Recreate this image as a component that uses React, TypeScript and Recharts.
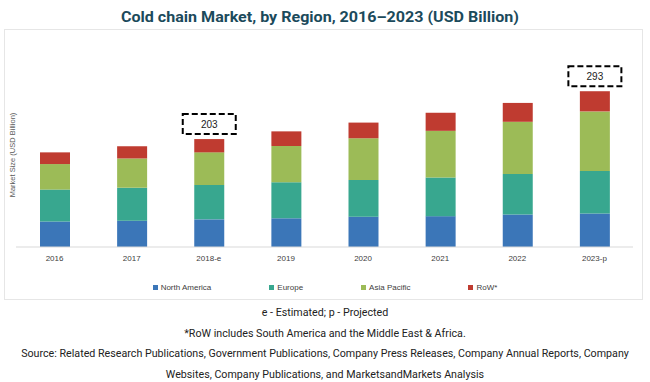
import React from "react";
import { BarChart, Bar, XAxis, YAxis, LabelList } from "recharts";

const years = ["2016", "2017", "2018-e", "2019", "2020", "2021", "2022", "2023-p"];
const northAmerica = [48, 49.5, 52, 54, 57, 58, 61, 63];
const europe = [60, 62, 64.5, 68, 69, 72.5, 76.5, 80];
const asiaPacific = [48, 55, 61.5, 68, 78.5, 88, 98, 112];
const restOfWorld = [22, 23, 25, 27.5, 29.5, 34, 35.5, 38];
const callouts = ["", "", "203", "", "", "", "", "293"];

const seriesNames = ["North America", "Europe", "Asia Pacific", "RoW*"];
const seriesKeys = ["northAmerica", "europe", "asiaPacific", "restOfWorld"];
const seriesColors = ["#3b76b8", "#38a78f", "#9cbb57", "#bf3b30"];

const data = years.map((year, i) => ({
  year,
  northAmerica: northAmerica[i],
  europe: europe[i],
  asiaPacific: asiaPacific[i],
  restOfWorld: restOfWorld[i],
  callout: callouts[i],
}));

const narrow = "'Liberation Sans Narrow', 'Liberation Sans', Arial, sans-serif";

const CalloutLabel = (props: any) => {
  const { x, y, width, value } = props;
  if (!value) return null;
  const cx = Number(x) + Number(width) / 2;
  const bottom = Number(y) - 5;
  return (
    <g>
      <rect
        x={cx - 26.5}
        y={bottom - 20}
        width={53}
        height={20}
        fill="#ffffff"
        stroke="#000000"
        strokeWidth={2}
        strokeDasharray="6 3"
      />
      <text
        x={cx}
        y={bottom - 10}
        textAnchor="middle"
        dominantBaseline="central"
        fontSize={10}
        fontFamily={narrow}
        fill="#222222"
      >
        {value}
      </text>
    </g>
  );
};

export default function App() {
  return (
    <div style={{ position: "absolute", left: 0, top: 0, width: 650, height: 382, background: "#ffffff", overflow: "hidden" }}>
      <svg width={650} height={30} style={{ position: "absolute", left: 0, top: 0 }}>
        <text
          x={320}
          y={17}
          textAnchor="middle"
          dominantBaseline="central"
          fontSize={14}
          fontWeight="bold"
          fontFamily="Roboto, 'Liberation Sans', sans-serif"
          fill="#1b4a5b"
          textLength={398}
          lengthAdjust="spacingAndGlyphs"
        >
          Cold chain Market, by Region, 2016–2023 (USD Billion)
        </text>
      </svg>
      <div
        style={{
          position: "absolute",
          left: 4,
          top: 29,
          width: 639,
          height: 271,
          border: "1px solid #e6e6e6",
          boxSizing: "border-box",
        }}
      />
      <div
        style={{
          position: "absolute",
          left: 12,
          top: 155,
          transform: "translate(-50%, -50%) rotate(-90deg)",
          whiteSpace: "nowrap",
          fontSize: 7.5,
          fontFamily: narrow,
          color: "#595959",
        }}
      >
        Market Size (USD Billion)
      </div>
      <div style={{ position: "absolute", left: 0, top: 0 }}>
        <BarChart
          width={650}
          height={270}
          data={data}
          margin={{ top: 87.5, right: 17, bottom: 0, left: 16 }}
          barSize={30}
        >
          <XAxis
            dataKey="year"
            height={23}
            tickLine={false}
            axisLine={{ stroke: "#d9d9d9" }}
            tick={{ fontSize: 8, fill: "#404040", fontFamily: narrow }}
            interval={0}
          />
          <YAxis hide domain={[0, 300]} />
          {seriesKeys.map((key, i) => (
            <Bar key={key} dataKey={key} stackId="a" fill={seriesColors[i]} isAnimationActive={false}>
              {i === seriesKeys.length - 1 ? (
                <LabelList dataKey="callout" content={CalloutLabel} />
              ) : null}
            </Bar>
          ))}
        </BarChart>
      </div>
      <div
        style={{
          position: "absolute",
          left: 2,
          top: 283,
          width: 646,
          display: "flex",
          justifyContent: "center",
          gap: 58,
          fontSize: 8,
          fontFamily: narrow,
          color: "#404040",
        }}
      >
        {seriesNames.map((name, i) => (
          <div key={name} style={{ display: "flex", alignItems: "center", gap: 3 }}>
            <span style={{ display: "inline-block", width: 5, height: 5, background: seriesColors[i] }} />
            <span>{name}</span>
          </div>
        ))}
      </div>
      <div
        style={{
          position: "absolute",
          left: 0,
          top: 303,
          width: 650,
          textAlign: "center",
          fontSize: 10.7,
          lineHeight: "20.5px",
          fontFamily: "Roboto, 'Liberation Sans', sans-serif",
          color: "#222222",
        }}
      >
        <div>e - Estimated; p - Projected</div>
        <div>*RoW includes South America and the Middle East &amp; Africa.</div>
        <div>Source: Related Research Publications, Government Publications, Company Press Releases, Company Annual Reports, Company</div>
        <div>Websites, Company Publications, and MarketsandMarkets Analysis</div>
      </div>
    </div>
  );
}
